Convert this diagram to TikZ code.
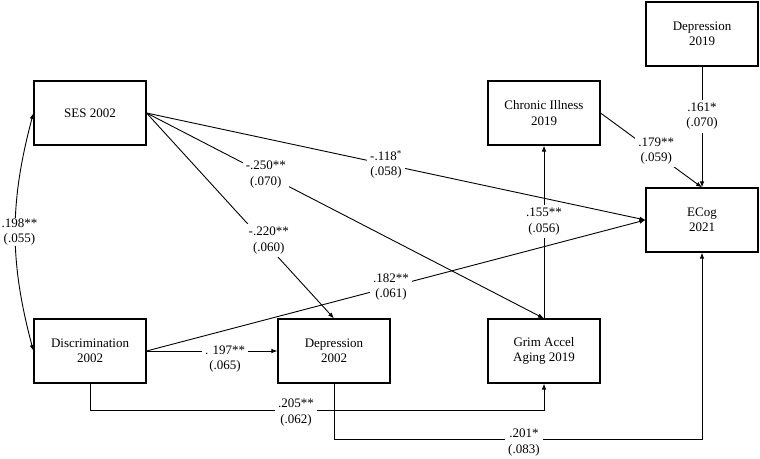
\documentclass[tikz,border=0pt]{standalone}
\usepackage{fontspec}
\setmainfont{Liberation Serif}
\usetikzlibrary{arrows.meta}

\begin{document}
\begin{tikzpicture}[
                        x = 1pt, y = 1pt,
                        > = {Latex[length=6pt, width=4.5pt]},
                        line width = 0.9pt,
                        font = \fontsize{13}{15.5}\selectfont
                        ]

                        \tikzstyle{box}=[
                                draw = black,
                                rectangle,
                                line width = 1.1pt,
                                align = center,
                                minimum width = 112pt,
                                minimum height = 64pt
                        ]
                        \tikzstyle{coef}=[
                                fill = white,
                                align = center,
                                inner sep = 3pt
                        ]

                        \useasboundingbox (0,0) rectangle (760,-458);

                        \node[box] (ses) at (90,-113) {SES 2002};
                        \node[box] (discr) [below of=ses, node distance=238pt] {Discrimination\\2002};
                        \node[box] (dep02) [right of=discr, node distance=244pt] {Depression\\2002};
                        \node[box] (grim) [right of=dep02, node distance=210pt] {Grim Accel\\Aging 2019};
                        \node[box] (chronic) [above of=grim, node distance=238pt] {Chronic Illness\\2019};
                        \node[box] (ecog) at (702,-220) {ECog\\2021};
                        \node[box] (dep19) [above of=ecog, node distance=186pt] {Depression\\2019};

                        \draw[<->] (ses.west) to[out=-105, in=105] node[coef, midway, xshift=4pt, inner sep=1pt] {.198**\\(.055)} (discr.west);
                        \draw[->] (ses.east) -- (ecog.west) node[coef, pos=0.48] {-.118\textsuperscript{*}\\(.058)};
                        \draw[->] (ses.east) -- (grim.north) node[coef, pos=0.30] {-.250**\\(.070)};
                        \draw[->] (ses.east) -- (dep02.north) node[coef, pos=0.62, xshift=6pt] {-.220**\\(.060)};
                        \draw[->] (discr.east) -- (dep02.west) node[coef, pos=0.6, yshift=-8pt] {. 197**\\(.065)};
                        \draw[->] (discr.east) -- (ecog.west) node[coef, pos=0.49] {.182**\\(.061)};
                        \draw[->] (discr.south) -- ++(0,-27) -| node[coef, pos=0.227, yshift=-2pt] {.205**\\(.062)} (grim.south);
                        \draw[->] (dep02.south) -- ++(0,-56) -| node[coef, pos=0.258, yshift=-3pt] {.201*\\(.083)} (ecog.south);
                        \draw[->] (grim.north) -- (chronic.south) node[coef, pos=0.56] {.155**\\(.056)};
                        \draw[->] (chronic.east) -- (ecog.north) node[coef, pos=0.55, yshift=3pt] {.179**\\(.059)};
                        \draw[->] (dep19.south) -- (ecog.north) node[coef, pos=0.41] {.161*\\(.070)};
                \end{tikzpicture}
\end{document}
